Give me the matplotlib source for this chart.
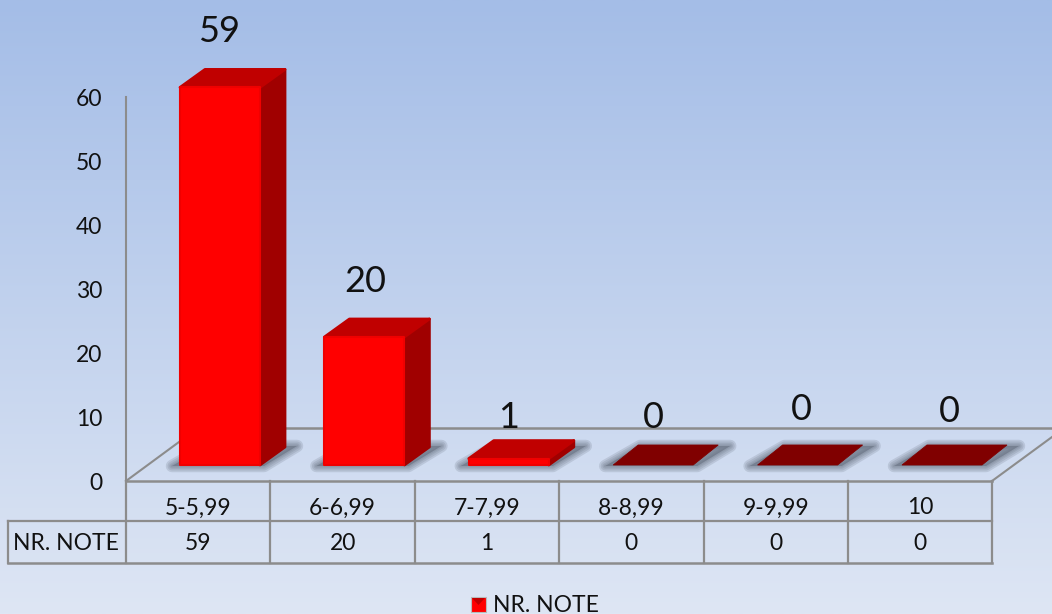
import numpy as np
import matplotlib
matplotlib.use("Agg")
import matplotlib.pyplot as plt
from matplotlib.patches import Polygon, Rectangle

categories = ["5-5,99", "6-6,99", "7-7,99", "8-8,99", "9-9,99", "10"]
values = [59, 20, 1, 0, 0, 0]
series_name = "NR. NOTE"
y_ticks = [0, 10, 20, 30, 40, 50, 60]

plt.rcParams['font.family'] = ['Lato', 'DejaVu Sans']

W, H = 1052, 614
PX = 6.4                      # pixels per unit
AXIS_Y0, BAR_Y0 = 481, 465
X0, STEP = 126, 144.4
BAR_W, DX, DY = 80, 25, 18
LABEL_X = [219, 365, 509, 653, 801, 949]
LABEL_Y = [31, 281, 417, 417, 410, 412]
GRID = "#8C8C8C"
TEXT = "#111111"
FS = 16.5

fig = plt.figure(figsize=(W / 100, H / 100), dpi=100)
ax = fig.add_axes([0, 0, 1, 1])
ax.set_xlim(0, W)
ax.set_ylim(H, 0)
ax.axis("off")

# background gradient
c1 = np.array(matplotlib.colors.to_rgb("#A4BDE7"))
c2 = np.array(matplotlib.colors.to_rgb("#DEE6F4"))
t = np.linspace(0, 1, 256)[:, None, None]
ax.imshow(c1 + (c2 - c1) * t, extent=[0, W, H, 0], aspect="auto", zorder=0)

# walls / floor
ax.plot([X0, X0], [97, AXIS_Y0], color=GRID, lw=1.5, zorder=1)
ax.plot([X0, 198], [AXIS_Y0, 428], color=GRID, lw=1.5, zorder=1)
ax.plot([198, W], [428, 428], color=GRID, lw=1.8, zorder=1)
ax.plot([992, W], [AXIS_Y0, 437], color=GRID, lw=1.5, zorder=1)

# y ticks
for v in y_ticks:
    ax.text(102, AXIS_Y0 - v * PX + 2.5, str(v), ha="right", va="center", fontsize=FS, color=TEXT, zorder=5)

# bars
for i, v in enumerate(values):
    x = 180 + i * 144.4
    top = BAR_Y0 - v * PX
    # soft shadow on the floor
    sh = [(x - 8, BAR_Y0 + 1), (x + BAR_W + 4, BAR_Y0 + 1), (x + BAR_W + DX + 12, BAR_Y0 - DY - 1), (x + DX + 2, BAR_Y0 - DY - 1)]
    for lw in (9, 6.5, 4, 2):
        ax.add_patch(Polygon(sh, closed=True, fc="#667080", ec="#667080", lw=lw, alpha=0.2, joinstyle="round", zorder=2))
    if v == 0:
        ax.add_patch(Polygon([(x, BAR_Y0), (x + BAR_W, BAR_Y0), (x + BAR_W + DX, BAR_Y0 - DY - 2), (x + DX, BAR_Y0 - DY - 2)],
                             closed=True, fc="#800000", ec="#800000", lw=0.6, zorder=3))
    else:
        ax.add_patch(Polygon([(x + BAR_W, BAR_Y0), (x + BAR_W + DX, BAR_Y0 - DY), (x + BAR_W + DX, top - DY), (x + BAR_W, top)],
                             closed=True, fc="#A00000", ec="#A00000", lw=2, joinstyle="round", zorder=3))
        ax.add_patch(Polygon([(x, top), (x + BAR_W, top), (x + BAR_W + DX, top - DY), (x + DX, top - DY)],
                             closed=True, fc="#C00000", ec="#C00000", lw=2, joinstyle="round", zorder=3))
        bars = ax.bar(x + BAR_W / 2, v * PX, width=BAR_W, bottom=top, color="#FF0000", edgecolor="#F00000", lw=1.5, zorder=4)
        for b in bars:
            b.set_joinstyle("round")
    ax.text(LABEL_X[i], LABEL_Y[i], str(v), ha="center", va="center", fontsize=26, color=TEXT, zorder=6)

# data table
ROW0, ROW1, ROW2 = 481, 521, 563
ax.plot([X0, 992], [ROW0, ROW0], color=GRID, lw=1.8, zorder=1)
ax.plot([8, 992], [ROW1, ROW1], color=GRID, lw=1.6, zorder=1)
ax.plot([8, 992], [ROW2, ROW2], color=GRID, lw=1.8, zorder=1)
ax.plot([8, 8], [ROW1, ROW2], color=GRID, lw=1.6, zorder=1)
for i in range(len(categories) + 1):
    ax.plot([X0 + i * STEP] * 2, [ROW0, ROW2], color=GRID, lw=1.6, zorder=1)
for i, (c, v) in enumerate(zip(categories, values)):
    cx = X0 + (i + 0.5) * STEP
    ax.text(cx, 508, c, ha="center", va="center", fontsize=FS, color=TEXT)
    ax.text(cx, 543, str(v), ha="center", va="center", fontsize=FS, color=TEXT)
ax.text(66, 543, series_name, ha="center", va="center", fontsize=FS, color=TEXT)

# legend
ax.add_patch(Rectangle((471, 597), 15, 15, fc="#FF0000", ec="#B9B9B9", lw=0.8, zorder=3))
ax.add_patch(Polygon([(472, 598), (485, 598), (478.5, 605)], closed=True, fc="#C00000", ec="none", zorder=4))
ax.text(493, 605, series_name, ha="left", va="center", fontsize=FS, color=TEXT)

fig.savefig("out.png", dpi=100)
